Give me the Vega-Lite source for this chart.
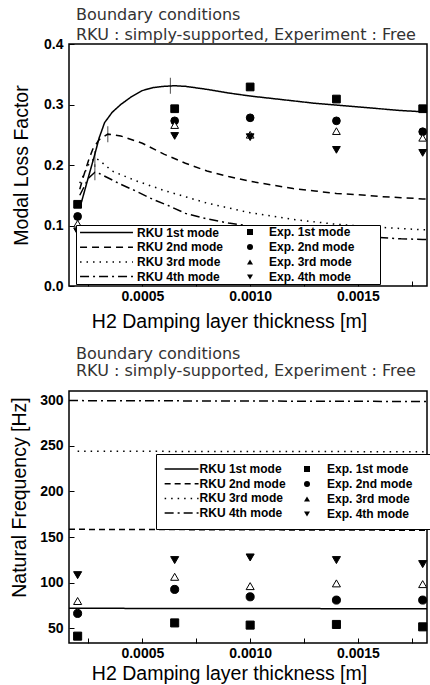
{
  "$schema": "https://vega.github.io/schema/vega-lite/v6.json",
  "autosize": {"type": "pad"},
  "padding": {"left": 8, "top": 6, "right": 1, "bottom": 0},
  "background": "white",
  "spacing": 12,
  "config": {
    "view": {"stroke": "black", "strokeWidth": 1.5},
    "font": "Liberation Sans",
    "axis": {
      "labelFont": "Liberation Sans", "labelFontSize": 14, "labelFontWeight": "bold", "labelColor": "black",
      "titleFont": "Liberation Sans", "titleFontSize": 19.5, "titleFontWeight": "normal", "titleColor": "black",
      "domain": false, "grid": false, "tickColor": "black", "tickWidth": 1
    },
    "legend": {
      "labelFont": "Liberation Sans", "labelFontSize": 12, "labelFontWeight": "bold", "labelColor": "black"
    },
    "title": {"font": "DejaVu Sans", "fontSize": 16, "fontWeight": "normal", "color": "#333", "anchor": "start", "frame": "group", "dx": 7}
  },
  "resolve": {
    "scale": {"strokeDash": "independent", "shape": "independent"},
    "legend": {"strokeDash": "independent", "shape": "independent"}
  },
  "datasets": {
    "lossCurves": [
      {"x": 0.000215, "y": 0.135, "curve": "RKU 1st mode"},
      {"x": 0.00025, "y": 0.18, "curve": "RKU 1st mode"},
      {"x": 0.00028, "y": 0.218, "curve": "RKU 1st mode"},
      {"x": 0.0003, "y": 0.245, "curve": "RKU 1st mode"},
      {"x": 0.000325, "y": 0.27, "curve": "RKU 1st mode"},
      {"x": 0.00036, "y": 0.287, "curve": "RKU 1st mode"},
      {"x": 0.0004, "y": 0.3, "curve": "RKU 1st mode"},
      {"x": 0.00045, "y": 0.313, "curve": "RKU 1st mode"},
      {"x": 0.0005, "y": 0.323, "curve": "RKU 1st mode"},
      {"x": 0.00055, "y": 0.328, "curve": "RKU 1st mode"},
      {"x": 0.0006, "y": 0.33, "curve": "RKU 1st mode"},
      {"x": 0.00065, "y": 0.331, "curve": "RKU 1st mode"},
      {"x": 0.0007, "y": 0.33, "curve": "RKU 1st mode"},
      {"x": 0.0008, "y": 0.325, "curve": "RKU 1st mode"},
      {"x": 0.0009, "y": 0.319, "curve": "RKU 1st mode"},
      {"x": 0.001, "y": 0.314, "curve": "RKU 1st mode"},
      {"x": 0.0011, "y": 0.31, "curve": "RKU 1st mode"},
      {"x": 0.0012, "y": 0.306, "curve": "RKU 1st mode"},
      {"x": 0.0013, "y": 0.302, "curve": "RKU 1st mode"},
      {"x": 0.0014, "y": 0.299, "curve": "RKU 1st mode"},
      {"x": 0.0015, "y": 0.296, "curve": "RKU 1st mode"},
      {"x": 0.0016, "y": 0.293, "curve": "RKU 1st mode"},
      {"x": 0.0017, "y": 0.29, "curve": "RKU 1st mode"},
      {"x": 0.0018, "y": 0.288, "curve": "RKU 1st mode"},
      {"x": 0.00182, "y": 0.287, "curve": "RKU 1st mode"},
      {"x": 0.00021, "y": 0.16, "curve": "RKU 2nd mode"},
      {"x": 0.000225, "y": 0.179, "curve": "RKU 2nd mode"},
      {"x": 0.00025, "y": 0.207, "curve": "RKU 2nd mode"},
      {"x": 0.00027, "y": 0.226, "curve": "RKU 2nd mode"},
      {"x": 0.0003, "y": 0.242, "curve": "RKU 2nd mode"},
      {"x": 0.00034, "y": 0.251, "curve": "RKU 2nd mode"},
      {"x": 0.0004, "y": 0.248, "curve": "RKU 2nd mode"},
      {"x": 0.0005, "y": 0.236, "curve": "RKU 2nd mode"},
      {"x": 0.0006, "y": 0.218, "curve": "RKU 2nd mode"},
      {"x": 0.0007, "y": 0.203, "curve": "RKU 2nd mode"},
      {"x": 0.0008, "y": 0.19, "curve": "RKU 2nd mode"},
      {"x": 0.0009, "y": 0.181, "curve": "RKU 2nd mode"},
      {"x": 0.001, "y": 0.173, "curve": "RKU 2nd mode"},
      {"x": 0.0011, "y": 0.167, "curve": "RKU 2nd mode"},
      {"x": 0.0012, "y": 0.161, "curve": "RKU 2nd mode"},
      {"x": 0.0013, "y": 0.157, "curve": "RKU 2nd mode"},
      {"x": 0.0014, "y": 0.153, "curve": "RKU 2nd mode"},
      {"x": 0.0015, "y": 0.151, "curve": "RKU 2nd mode"},
      {"x": 0.0016, "y": 0.148, "curve": "RKU 2nd mode"},
      {"x": 0.0017, "y": 0.146, "curve": "RKU 2nd mode"},
      {"x": 0.0018, "y": 0.144, "curve": "RKU 2nd mode"},
      {"x": 0.00182, "y": 0.144, "curve": "RKU 2nd mode"},
      {"x": 0.00021, "y": 0.17, "curve": "RKU 3rd mode"},
      {"x": 0.00025, "y": 0.2, "curve": "RKU 3rd mode"},
      {"x": 0.00028, "y": 0.212, "curve": "RKU 3rd mode"},
      {"x": 0.0003, "y": 0.208, "curve": "RKU 3rd mode"},
      {"x": 0.00036, "y": 0.19, "curve": "RKU 3rd mode"},
      {"x": 0.00047, "y": 0.174, "curve": "RKU 3rd mode"},
      {"x": 0.0006, "y": 0.158, "curve": "RKU 3rd mode"},
      {"x": 0.0008, "y": 0.137, "curve": "RKU 3rd mode"},
      {"x": 0.001, "y": 0.121, "curve": "RKU 3rd mode"},
      {"x": 0.0012, "y": 0.11, "curve": "RKU 3rd mode"},
      {"x": 0.0014, "y": 0.102, "curve": "RKU 3rd mode"},
      {"x": 0.0016, "y": 0.097, "curve": "RKU 3rd mode"},
      {"x": 0.0018, "y": 0.093, "curve": "RKU 3rd mode"},
      {"x": 0.00182, "y": 0.093, "curve": "RKU 3rd mode"},
      {"x": 0.00021, "y": 0.15, "curve": "RKU 4th mode"},
      {"x": 0.00025, "y": 0.178, "curve": "RKU 4th mode"},
      {"x": 0.00028, "y": 0.188, "curve": "RKU 4th mode"},
      {"x": 0.0003, "y": 0.186, "curve": "RKU 4th mode"},
      {"x": 0.00034, "y": 0.179, "curve": "RKU 4th mode"},
      {"x": 0.0004, "y": 0.168, "curve": "RKU 4th mode"},
      {"x": 0.00047, "y": 0.157, "curve": "RKU 4th mode"},
      {"x": 0.00055, "y": 0.143, "curve": "RKU 4th mode"},
      {"x": 0.00062, "y": 0.133, "curve": "RKU 4th mode"},
      {"x": 0.0007, "y": 0.12, "curve": "RKU 4th mode"},
      {"x": 0.0008, "y": 0.111, "curve": "RKU 4th mode"},
      {"x": 0.0009, "y": 0.104, "curve": "RKU 4th mode"},
      {"x": 0.001, "y": 0.099, "curve": "RKU 4th mode"},
      {"x": 0.0011, "y": 0.094, "curve": "RKU 4th mode"},
      {"x": 0.0012, "y": 0.09, "curve": "RKU 4th mode"},
      {"x": 0.0013, "y": 0.087, "curve": "RKU 4th mode"},
      {"x": 0.0014, "y": 0.084, "curve": "RKU 4th mode"},
      {"x": 0.0015, "y": 0.082, "curve": "RKU 4th mode"},
      {"x": 0.0016, "y": 0.08, "curve": "RKU 4th mode"},
      {"x": 0.0017, "y": 0.078, "curve": "RKU 4th mode"},
      {"x": 0.0018, "y": 0.077, "curve": "RKU 4th mode"},
      {"x": 0.00182, "y": 0.077, "curve": "RKU 4th mode"}
    ],
    "lossExp": [
      {"x": 0.0002, "y": 0.135, "exp": "Exp. 1st mode"},
      {"x": 0.00065, "y": 0.293, "exp": "Exp. 1st mode"},
      {"x": 0.001, "y": 0.329, "exp": "Exp. 1st mode"},
      {"x": 0.0014, "y": 0.309, "exp": "Exp. 1st mode"},
      {"x": 0.0018, "y": 0.293, "exp": "Exp. 1st mode"},
      {"x": 0.0002, "y": 0.115, "exp": "Exp. 2nd mode"},
      {"x": 0.00065, "y": 0.273, "exp": "Exp. 2nd mode"},
      {"x": 0.001, "y": 0.278, "exp": "Exp. 2nd mode"},
      {"x": 0.0014, "y": 0.273, "exp": "Exp. 2nd mode"},
      {"x": 0.0018, "y": 0.255, "exp": "Exp. 2nd mode"},
      {"x": 0.0002, "y": 0.103, "exp": "Exp. 3rd mode"},
      {"x": 0.00065, "y": 0.266, "exp": "Exp. 3rd mode"},
      {"x": 0.001, "y": 0.25, "exp": "Exp. 3rd mode"},
      {"x": 0.0014, "y": 0.256, "exp": "Exp. 3rd mode"},
      {"x": 0.0018, "y": 0.245, "exp": "Exp. 3rd mode"},
      {"x": 0.0002, "y": 0.09, "exp": "Exp. 4th mode"},
      {"x": 0.00065, "y": 0.248, "exp": "Exp. 4th mode"},
      {"x": 0.001, "y": 0.246, "exp": "Exp. 4th mode"},
      {"x": 0.0014, "y": 0.225, "exp": "Exp. 4th mode"},
      {"x": 0.0018, "y": 0.22, "exp": "Exp. 4th mode"}
    ],
    "lossMarks": [
      {"x": 0.00063, "y": 0.331},
      {"x": 0.00034, "y": 0.251},
      {"x": 0.00028, "y": 0.21},
      {"x": 0.00028, "y": 0.188}
    ],
    "freqCurves": [
      {"x": 0.00016, "y": 72, "curve": "RKU 1st mode"},
      {"x": 0.00182, "y": 71.5, "curve": "RKU 1st mode"},
      {"x": 0.00016, "y": 158.5, "curve": "RKU 2nd mode"},
      {"x": 0.00182, "y": 157.5, "curve": "RKU 2nd mode"},
      {"x": 0.0002, "y": 244, "curve": "RKU 3rd mode"},
      {"x": 0.00182, "y": 243.5, "curve": "RKU 3rd mode"},
      {"x": 0.00016, "y": 299.5, "curve": "RKU 4th mode"},
      {"x": 0.00182, "y": 298.5, "curve": "RKU 4th mode"}
    ],
    "freqExp": [
      {"x": 0.0002, "y": 41.5, "exp": "Exp. 1st mode"},
      {"x": 0.00065, "y": 56, "exp": "Exp. 1st mode"},
      {"x": 0.001, "y": 53.6, "exp": "Exp. 1st mode"},
      {"x": 0.0014, "y": 54.3, "exp": "Exp. 1st mode"},
      {"x": 0.0018, "y": 51.7, "exp": "Exp. 1st mode"},
      {"x": 0.0002, "y": 66.4, "exp": "Exp. 2nd mode"},
      {"x": 0.00065, "y": 92.7, "exp": "Exp. 2nd mode"},
      {"x": 0.001, "y": 84.6, "exp": "Exp. 2nd mode"},
      {"x": 0.0014, "y": 81, "exp": "Exp. 2nd mode"},
      {"x": 0.0018, "y": 81, "exp": "Exp. 2nd mode"},
      {"x": 0.0002, "y": 80, "exp": "Exp. 3rd mode"},
      {"x": 0.00065, "y": 106.5, "exp": "Exp. 3rd mode"},
      {"x": 0.001, "y": 96.3, "exp": "Exp. 3rd mode"},
      {"x": 0.0014, "y": 99.3, "exp": "Exp. 3rd mode"},
      {"x": 0.0018, "y": 98.5, "exp": "Exp. 3rd mode"},
      {"x": 0.0002, "y": 108.3, "exp": "Exp. 4th mode"},
      {"x": 0.00065, "y": 124.8, "exp": "Exp. 4th mode"},
      {"x": 0.001, "y": 127.7, "exp": "Exp. 4th mode"},
      {"x": 0.0014, "y": 124.8, "exp": "Exp. 4th mode"},
      {"x": 0.0018, "y": 120.4, "exp": "Exp. 4th mode"}
    ]
  },
  "vconcat": [
    {
      "width": 358,
      "height": 242,
      "title": {"text": ["Boundary conditions", "RKU : simply-supported, Experiment : Free"], "lineHeight": 20, "offset": -6},
      "layer": [
        {
          "data": {"name": "lossCurves"},
          "mark": {"type": "line", "color": "black", "strokeWidth": 1.5, "clip": true},
          "encoding": {
            "x": {"field": "x", "type": "quantitative", "scale": {"domain": [0.00016, 0.00182], "nice": false, "zero": false},
              "axis": {"title": "H2 Damping layer thickness [m]", "values": [0.00025, 0.0005, 0.00075, 0.001, 0.00125, 0.0015, 0.00175], "format": ".4f", "labelExpr": "indexof(['0.0005','0.0010','0.0015'], datum.label) >= 0 ? datum.label : ''", "tickSize": -5, "labelPadding": 8, "titlePadding": 9, "titleX": 160}},
            "y": {"field": "y", "type": "quantitative", "scale": {"domain": [0, 0.4], "nice": false},
              "axis": {"title": "Modal Loss Factor", "values": [0, 0.05, 0.1, 0.15, 0.2, 0.25, 0.3, 0.35, 0.4], "format": ".1f", "labelExpr": "round(datum.value * 100) % 10 == 0 ? format(datum.value, '.1f') : ''", "tickSize": -5, "labelPadding": 11, "titlePadding": 12}},
            "strokeDash": {"field": "curve", "type": "nominal",
              "scale": {"domain": ["RKU 1st mode", "RKU 2nd mode", "RKU 3rd mode", "RKU 4th mode"], "range": [[1, 0], [7, 5], [1.5, 5], [9, 4, 2, 4]]},
              "legend": {"orient": "none", "legendX": 7, "legendY": 181, "title": null, "padding": 1, "fillColor": "white", "strokeColor": "black", "symbolType": "M-5,0H5M50.8,0", "symbolSize": 112, "symbolStrokeWidth": 1.5, "symbolStrokeColor": "black", "symbolOffset": 23, "labelOffset": 24, "rowPadding": 1.7, "zindex": 1}}
          }
        },
        {
          "data": {"name": "lossMarks"},
          "mark": {"type": "tick", "orient": "vertical", "color": "black", "thickness": 1, "size": 16},
          "encoding": {
            "x": {"field": "x", "type": "quantitative"},
            "y": {"field": "y", "type": "quantitative"}
          }
        },
        {
          "data": {"name": "lossExp"},
          "mark": {"type": "point", "filled": true, "color": "black", "stroke": "black", "strokeWidth": 1, "size": 60, "opacity": 1},
          "encoding": {
            "x": {"field": "x", "type": "quantitative"},
            "y": {"field": "y", "type": "quantitative"},
            "fill": {"condition": {"test": "datum.exp === 'Exp. 3rd mode'", "value": "white"}, "value": "black"},
            "shape": {"field": "exp", "type": "nominal",
              "scale": {"domain": ["Exp. 1st mode", "Exp. 2nd mode", "Exp. 3rd mode", "Exp. 4th mode"], "range": ["square", "circle", "triangle-up", "triangle-down"]},
              "legend": {"orient": "none", "legendX": 8, "legendY": 182, "title": null, "padding": 0, "symbolSize": 36, "symbolFillColor": "black", "symbolStrokeColor": "black", "symbolOffset": 167, "labelOffset": 13, "rowPadding": 3, "zindex": 2}}
          }
        }
      ]
    },
    {
      "width": 358,
      "height": 252,
      "title": {"text": ["Boundary conditions", "RKU : simply-supported, Experiment : Free"], "lineHeight": 17.5, "offset": 12},
      "layer": [
        {
          "data": {"name": "freqCurves"},
          "mark": {"type": "line", "color": "black", "strokeWidth": 1.5, "clip": true},
          "encoding": {
            "x": {"field": "x", "type": "quantitative", "scale": {"domain": [0.00016, 0.00182], "nice": false, "zero": false},
              "axis": {"title": "H2 Damping layer thickness [m]", "values": [0.00025, 0.0005, 0.00075, 0.001, 0.00125, 0.0015, 0.00175], "format": ".4f", "labelExpr": "indexof(['0.0005','0.0010','0.0015'], datum.label) >= 0 ? datum.label : ''", "tickSize": -5, "labelPadding": 8, "titlePadding": 4, "titleX": 160}},
            "y": {"field": "y", "type": "quantitative", "scale": {"domain": [34, 310], "nice": false, "zero": false},
              "axis": {"title": "Natural Frequency [Hz]", "values": [50, 75, 100, 125, 150, 175, 200, 225, 250, 275, 300], "format": "d", "labelExpr": "datum.value % 50 == 0 ? datum.label : ''", "tickSize": -5, "labelPadding": 11, "titlePadding": 10, "titleY": 106}},
            "strokeDash": {"field": "curve", "type": "nominal",
              "scale": {"domain": ["RKU 1st mode", "RKU 2nd mode", "RKU 3rd mode", "RKU 4th mode"], "range": [[1, 0], [6, 4], [1.5, 5], [9, 4, 2, 4]]},
              "legend": {"orient": "none", "legendX": 87, "legendY": 63, "title": null, "padding": 9, "fillColor": "white", "strokeColor": "black", "symbolType": "M-5,0H5M69.6,0", "symbolSize": 46, "symbolStrokeWidth": 1.5, "symbolStrokeColor": "black", "symbolOffset": 10.6, "labelOffset": 12, "rowPadding": 2.7, "zindex": 1}}
          }
        },
        {
          "data": {"name": "freqExp"},
          "mark": {"type": "point", "filled": true, "color": "black", "stroke": "black", "strokeWidth": 1, "size": 65, "opacity": 1},
          "encoding": {
            "x": {"field": "x", "type": "quantitative"},
            "y": {"field": "y", "type": "quantitative"},
            "fill": {"condition": {"test": "datum.exp === 'Exp. 3rd mode'", "value": "white"}, "value": "black"},
            "shape": {"field": "exp", "type": "nominal",
              "scale": {"domain": ["Exp. 1st mode", "Exp. 2nd mode", "Exp. 3rd mode", "Exp. 4th mode"], "range": ["square", "circle", "triangle-up", "triangle-down"]},
              "legend": {"orient": "none", "legendX": 96, "legendY": 72, "title": null, "padding": 0, "symbolSize": 36, "symbolFillColor": "black", "symbolStrokeColor": "black", "symbolOffset": 136, "labelOffset": 14, "rowPadding": 3, "zindex": 2}}
          }
        }
      ]
    }
  ]
}
